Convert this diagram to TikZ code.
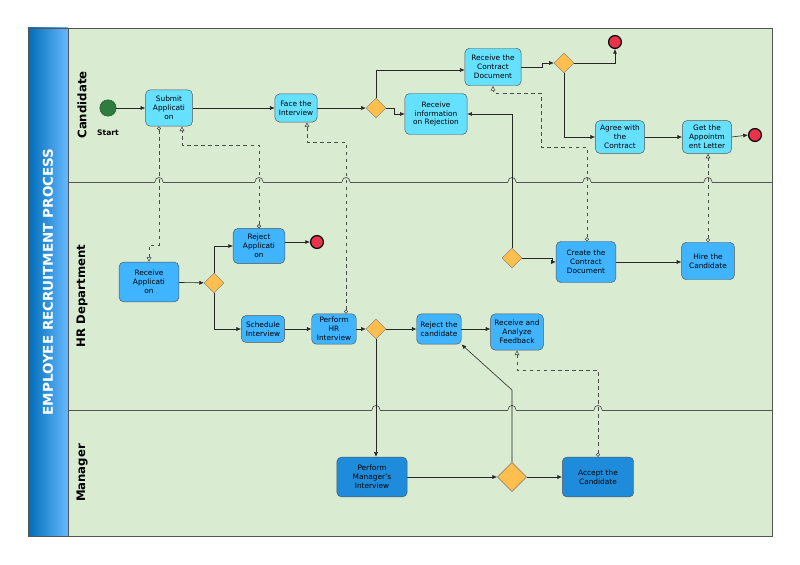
\documentclass[tikz,border=0pt]{standalone}
\usepackage{fontspec}
\setmainfont{DejaVu Sans}
\usetikzlibrary{shapes.geometric,arrows.meta}

\definecolor{lanegreen}{HTML}{D9EBD0}
\definecolor{candblue}{HTML}{66E0FF}
\definecolor{hrblue}{HTML}{40B4FF}
\definecolor{mgrblue}{HTML}{1E8CDB}
\definecolor{gateway}{HTML}{FFBE4D}
\definecolor{endred}{HTML}{E8334A}
\definecolor{startgreen}{HTML}{2E7D3E}
\definecolor{linegray}{HTML}{555555}

\tikzset{
  task/.style={draw=linegray, rounded corners=4pt, align=center, inner sep=1pt,
    font=\fontsize{6.3}{7.6}\selectfont},
  cand/.style={task, fill=candblue},
  hr/.style={task, fill=hrblue},
  mgr/.style={task, fill=mgrblue},
  gate/.style={diamond, draw=linegray!80, fill=gateway, inner sep=0pt, minimum size=#1},
  gate/.default=17pt,
  stop/.style={circle, draw=black, line width=1pt, fill=endred, minimum size=11pt, inner sep=0pt},
  flow/.style={-{Latex[length=4pt,width=3.5pt]}, draw=black!85, line width=0.5pt},
  msg/.style={{Circle[open,length=3.5pt]}-{Triangle[open,length=4pt,width=4pt]}, dashed, draw=black!70, line width=0.5pt},
  lane/.style={draw=linegray, line width=0.6pt},
  lanename/.style={rotate=90, font=\bfseries\fontsize{10}{12}\selectfont}
}

\begin{document}
\begin{tikzpicture}[x=0.03cm, y=-0.03cm]
\useasboundingbox (0,0) rectangle (800,565);
% pool
\fill[lanegreen] (68,28) rectangle (772,536);
\shade[left color=black!40!cyan!70!blue, right color=cyan!55!blue!60] (28,28) rectangle (68,536);
\draw[linegray] (28,28) rectangle (772,536);
\draw[linegray] (68,28) -- (68,536);
\node[rotate=90, text=white, font=\bfseries\fontsize{11.5}{13}\selectfont] (title) at (48,282) {EMPLOYEE RECRUITMENT PROCESS};
\node[lanename] (lcand) at (82,105) {Candidate};
\node[lanename] (lhr) at (82,296) {HR Department};
\node[lanename] (lmgr) at (82,473) {Manager};

% lane borders with little bridges
\draw[lane] (68,182) -- (772,182);
\draw[lane] (68,410) -- (772,410);
\foreach \x in {159,259,346,512,587,708} {
  \draw[lanegreen, line width=1.5pt] (\x-4,182) -- (\x+4,182);
  \draw[lane] (\x-4,182) .. controls (\x-4,176) and (\x+4,176) .. (\x+4,182);
}
\foreach \x in {376,512,598} {
  \draw[lanegreen, line width=1.5pt] (\x-4,410) -- (\x+4,410);
  \draw[lane] (\x-4,410) .. controls (\x-4,404) and (\x+4,404) .. (\x+4,410);
}

% candidate
\node[circle, fill=startgreen, draw=startgreen!70!black, minimum size=14pt, inner sep=0pt] (start) at (108,108) {};
\node[font=\bfseries\fontsize{6.5}{8}\selectfont] (startlbl) at (108,133) {Start};
\node[cand, minimum width=40pt, minimum height=31pt] (submit) at (169,108) {Submit\\Applicati\\on};
\node[cand, minimum width=36pt, minimum height=24pt] (face) at (296,108) {Face the\\Interview};
\node[gate] (d1) at (376,108) {};
\node[cand, minimum width=53pt, minimum height=35pt] (rejinfo) at (436,114) {Receive\\information\\on Rejection};
\node[cand, minimum width=48pt, minimum height=32pt] (getcontract) at (493,67) {Receive the\\Contract\\Document};
\node[gate] (d2) at (564,63) {};
\node[stop] (end1) at (615,42) {};
\node[cand, minimum width=42pt, minimum height=28pt] (agree) at (620,137) {Agree with\\the\\Contract};
\node[cand, minimum width=42pt, minimum height=28pt] (letter) at (707,137) {Get the\\Appointm\\ent Letter};
\node[stop] (end2) at (755,135) {};

% hr department
\node[hr, minimum width=51pt, minimum height=34pt] (recvapp) at (149,282) {Receive\\Applicati\\on};
\node[gate] (d3) at (214,283) {};
\node[hr, minimum width=44pt, minimum height=30pt] (rejapp) at (259,246) {Reject\\Applicati\\on};
\node[stop] (end3) at (317,242) {};
\node[hr, minimum width=37pt, minimum height=23pt] (schedule) at (263,329) {Schedule\\Interview};
\node[hr, minimum width=38pt, minimum height=26pt] (hrint) at (334,329) {Perform\\HR\\Interview};
\node[gate] (d4) at (376,329) {};
\node[hr, minimum width=38pt, minimum height=26pt] (rejcand) at (439,329) {Reject the\\candidate};
\node[hr, minimum width=45pt, minimum height=31pt] (feedback) at (517,332) {Receive and\\Analyze\\Feedback};
\node[gate] (d5) at (512,258) {};
\node[hr, minimum width=51pt, minimum height=35pt] (contract) at (586,262) {Create the\\Contract\\Document};
\node[hr, minimum width=45pt, minimum height=32pt] (hire) at (708,261) {Hire the\\Candidate};

% manager
\node[mgr, minimum width=60pt, minimum height=34pt] (mgrint) at (372,477) {Perform\\Manager's\\Interview};
\node[gate=25pt] (d6) at (512,477) {};
\node[mgr, minimum width=61pt, minimum height=34pt] (accept) at (598,477) {Accept the\\Candidate};

% sequence flows
\draw[flow] (start) -- (submit);
\draw[flow] (submit) -- (face);
\draw[flow] (face) -- (d1);
\draw[flow] (d1.north) |- (getcontract.west |- 0,70);
\draw[flow] (d1.east) -- ++(8,0) |- (rejinfo.west);
\draw[flow] (getcontract.east |- 0,67) -- (542,67) |- (d2.west);
\draw[flow] (d2.east) -| (end1.south);
\draw[flow] (d2.south) |- (agree.west);
\draw[flow] (agree) -- (letter);
\draw[flow] (letter.east) -- (end2.west);
\draw[flow] (recvapp) -- (d3);
\draw[flow] (d3.north) |- (rejapp.west);
\draw[flow] (d3.south) |- (schedule.west);
\draw[flow] (rejapp.east |- end3) -- (end3);
\draw[flow] (schedule) -- (hrint);
\draw[flow] (hrint) -- (d4);
\draw[flow] (d4) -- (rejcand);
\draw[flow] (rejcand) -- (feedback.west |- rejcand);
\draw[flow] (d4.south) -- (mgrint.north -| d4);
\draw[flow] (mgrint) -- (d6);
\draw[flow] (d6) -- (accept);
\draw[flow] (d6.north) -- (512,390) -- (rejcand.south east);
\draw[flow] (d5.north) |- (rejinfo.east);
\draw[flow] (d5.east) -- ++(30,0) |- (contract.west);
\draw[flow] (contract) -- (hire.west |- contract);

% message flows
\draw[msg] (submit.south -| 159,0) -- (159,245) -- (149,245) -- (recvapp.north);
\draw[msg] (rejapp.north) -- (259,145) -- (182,145) -- (submit.south -| 182,0);
\draw[msg] (hrint.north -| 346,0) -- (346,142) -- (307,142) -- (face.south -| 307,0);
\draw[msg] (contract.north -| 587,0) -- (587,147) -- (541,147) -- (541,93) -- (493,93) -- (getcontract.south);
\draw[msg] (hire.north) -- (letter.south -| hire);
\draw[msg] (accept.north) -- (598,370) -- (517,370) -- (feedback.south);
\end{tikzpicture}
\end{document}
